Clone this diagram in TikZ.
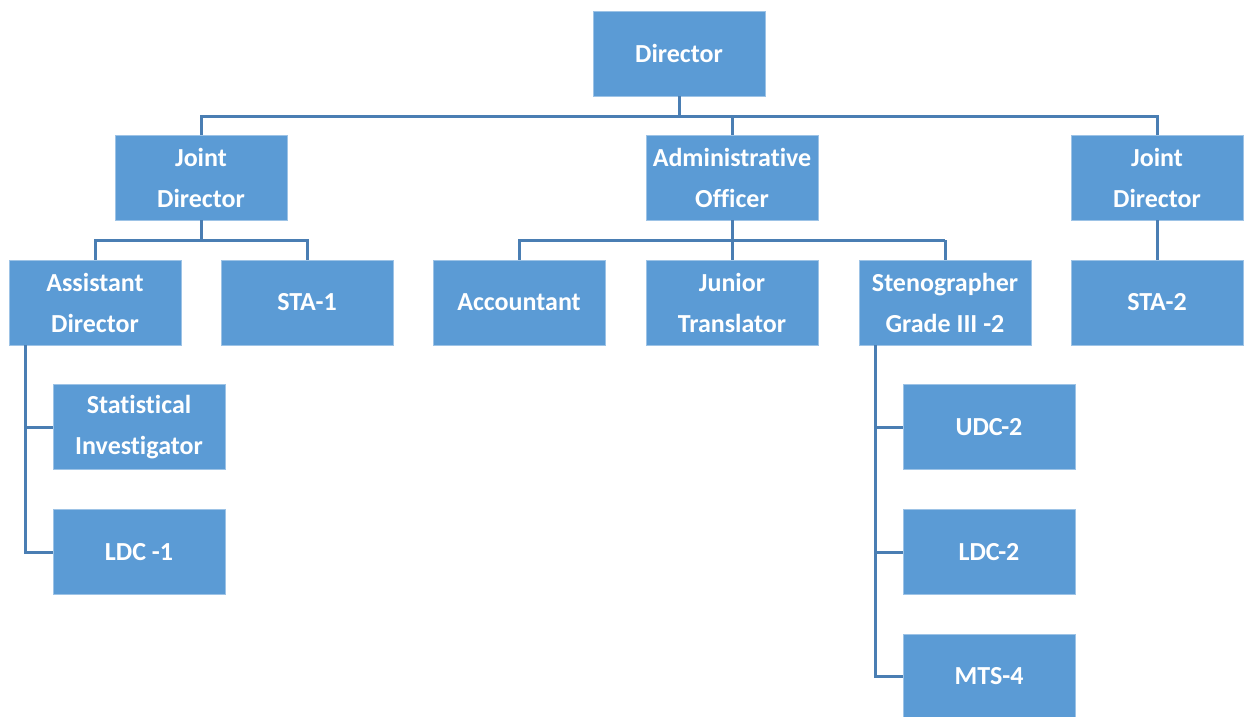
\documentclass[tikz,border=0pt]{standalone}
\usepackage{fontspec}
\setmainfont[Ligatures=NoCommon,RawFeature={-calt;-dlig;-liga}]{Carlito}
\usepackage{tikz}
\usetikzlibrary{positioning}

\definecolor{BoxBlue}{HTML}{5B9BD5}
\definecolor{LinkBlue}{HTML}{4A7EB3}

\begin{document}
\begin{tikzpicture}[x=1pt,y=-1pt,thick]
\tikzset{BoxStyle/.style = {draw=BoxBlue!60!white,line width=0.8pt,fill=BoxBlue,
                            rectangle,minimum width=172pt,minimum height=85pt,
                            text=white,align=center,inner sep=0pt,
                            font=\fontsize{26}{41}\selectfont\bfseries},
         LinkStyle/.style = {draw=LinkBlue,line width=3pt}}
\useasboundingbox (0,0) rectangle (1244,716);

% top levels
\node[BoxStyle] (dir)   at (679,53.5)  {Director};
\node[BoxStyle] (jdl)   at (201,177.5) {Joint\\Director};
\node[BoxStyle] (ao)    at (732,177.5) {Administrative\\Officer};
\node[BoxStyle] (jdr)   at (1157,177.5) {Joint\\Director};

% third level
\node[BoxStyle] (ad)    at (95,302.5)  {Assistant\\Director};
\node[BoxStyle] (sta1)  at (307,302.5) {STA-1};
\node[BoxStyle] (acc)   at (519,302.5) {Accountant};
\node[BoxStyle] (jt)    at (732,302.5) {Junior\\Translator};
\node[BoxStyle] (steno) at (945,302.5) {Stenographer\\Grade III -2};
\node[BoxStyle] (sta2)  at (1157,302.5) {STA-2};

% under assistant director
\node[BoxStyle] (si)    at (139,427)   {Statistical\\Investigator};
\node[BoxStyle] (ldc1)  at (139,552)   {LDC -1};

% under stenographer
\node[BoxStyle] (udc2)  at (989,427)   {UDC-2};
\node[BoxStyle] (ldc2)  at (989,552)   {LDC-2};
\node[BoxStyle,minimum height=84pt] (mts4) at (989,676) {MTS-4};

% director bus
\draw[LinkStyle] (dir.south) -- (679,116);
\draw[LinkStyle] (jdl.north) |- (ao.north |- 0,116) -| (jdr.north);
\draw[LinkStyle] (ao.north) -- (732,116);

% joint director and admin officer buses
\draw[LinkStyle] (ad.north) |- (jdl.south |- 0,240) -| (sta1.north);
\draw[LinkStyle] (jdl.south) -- (201,240);
\draw[LinkStyle] (acc.north) |- (steno.north |- 0,240);
\draw[LinkStyle] (steno.north) -- (945,240);
\draw[LinkStyle] (ao.south) -- (jt.north);
\draw[LinkStyle] (jdr.south) -- (sta2.north);

% side trees
\draw[LinkStyle] (25,345) |- (ldc1.west);
\draw[LinkStyle] (25,427) -- (si.west);
\draw[LinkStyle] (875,345) |- (mts4.west);
\draw[LinkStyle] (875,427) -- (udc2.west);
\draw[LinkStyle] (875,552) -- (ldc2.west);
\end{tikzpicture}
\end{document}
